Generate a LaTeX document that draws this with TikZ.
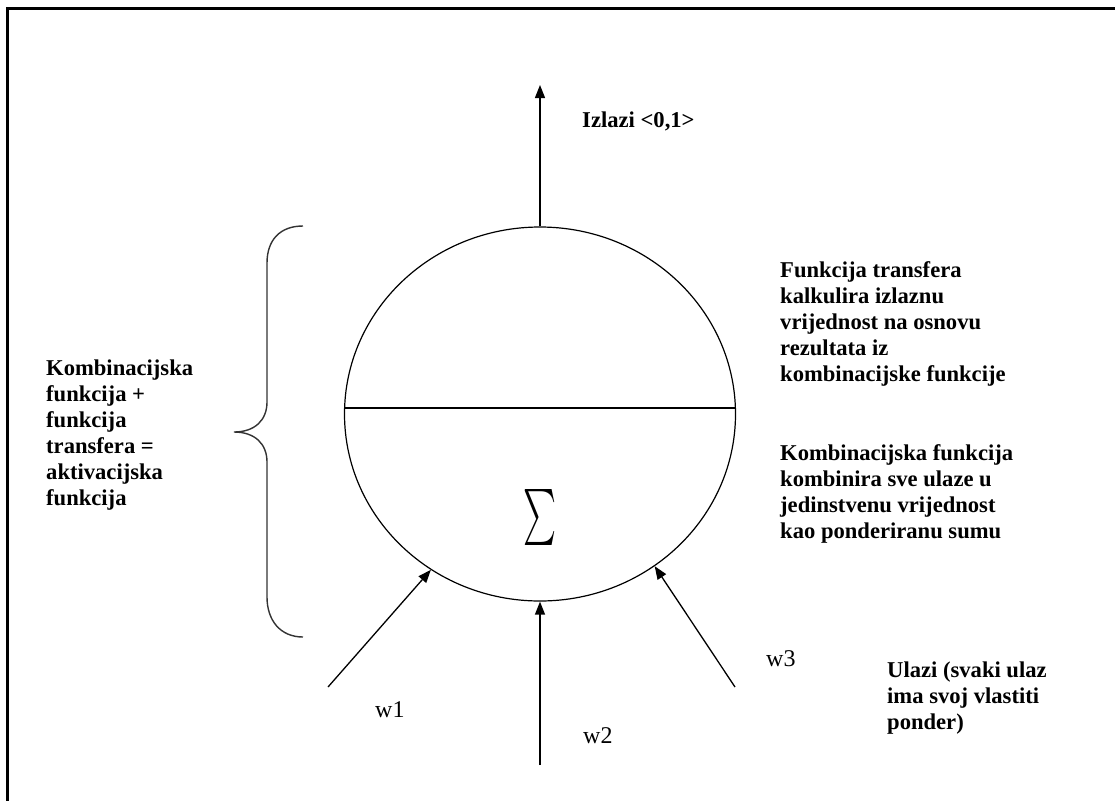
\documentclass[tikz,border=0pt]{standalone}
\usepackage{fontspec}
\setmainfont{Liberation Serif}
\usetikzlibrary{arrows.meta,shapes.geometric}
\begin{document}
\begin{tikzpicture}[x=1pt,y=-1pt,
  lbl/.style={font=\bfseries\fontsize{22.6}{26}\selectfont, align=left, anchor=base west, inner sep=0pt},
  wlbl/.style={font=\fontsize{24}{26}\selectfont, anchor=base west, inner sep=0pt},
  conn/.style={line width=1.3pt, -{Triangle[length=13pt,width=10pt]}},
  neuronstyle/.style={ellipse, draw, line width=1.2pt, minimum width=391pt, minimum height=374pt, inner sep=0pt},
  bracestyle/.style={line width=1.4pt, draw=black!80}
]
\useasboundingbox (0,0) rectangle (1115,801);
\draw[line width=2.5pt] (1115,8.5) -- (7.5,8.5) -- (7.5,801);

\node[neuronstyle] (neuron) at (540,414) {};
\draw[line width=1.2pt] ([yshift=6pt]neuron.west) -- ([yshift=6pt]neuron.east);
\node (sigma) at (540,517) {\resizebox{33pt}{42pt}{$\sum$}};

\coordinate (out) at (540,85);
\coordinate (in1) at (328,687);
\coordinate (in2) at (540,765);
\coordinate (in3) at (735,687);
\draw[conn] (neuron.north) -- (out);
\draw[conn] (in1) -- (neuron.235.6);
\draw[conn] (in2) -- (neuron.south);
\draw[conn] (in3) -- (neuron.307.8);

\draw[bracestyle] (303,226) .. controls (280,226) and (267,240) .. (267,263) -- (267,402)
  .. controls (267,420) and (255,432) .. (234,432)
  .. controls (255,432) and (267,444) .. (267,462) -- (267,597)
  .. controls (267,620) and (280,637) .. (303,637);

\node[lbl] (izlazi) at (582,127) {Izlazi <0,1>};
\node[lbl] (transfer) at (780,381) {Funkcija transfera\\kalkulira izlaznu\\vrijednost na osnovu\\rezultata iz\\kombinacijske funkcije};
\node[lbl] (kombin) at (780,538) {Kombinacijska funkcija\\kombinira sve ulaze u\\jedinstvenu vrijednost\\kao ponderiranu sumu};
\node[lbl] (aktiv) at (46,505) {Kombinacijska\\funkcija +\\funkcija\\transfera =\\aktivacijska\\funkcija};
\node[lbl] (ulazi) at (887,729) {Ulazi (svaki ulaz\\ima svoj vlastiti\\ponder)};

\node[wlbl] (w1) at (375,717) {w1};
\node[wlbl] (w2) at (583,743) {w2};
\node[wlbl] (w3) at (766,666) {w3};
\end{tikzpicture}
\end{document}
